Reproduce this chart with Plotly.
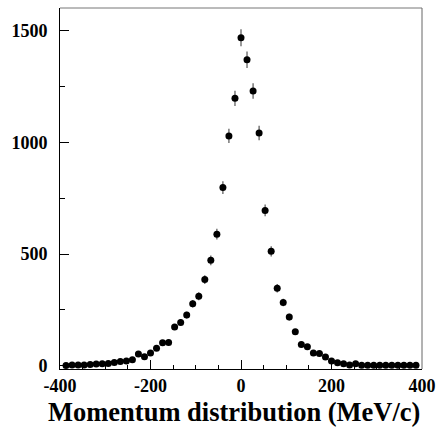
import numpy as np
import plotly.graph_objects as go

# Bin centres (MeV/c), 60 bins of 13.33 MeV/c across [-400, 400]
momentum = [
    -386.7, -373.3, -360.0, -346.7, -333.3, -320.0, -306.7, -293.3, -280.0, -266.7,
    -253.3, -240.0, -226.7, -213.3, -200.0, -186.7, -173.3, -160.0, -146.7, -133.3,
    -120.0, -106.7, -93.3, -80.0, -66.7, -53.3, -40.0, -26.7, -13.3, 0.0,
    13.3, 26.7, 40.0, 53.3, 66.7, 80.0, 93.3, 106.7, 120.0, 133.3,
    146.7, 160.0, 173.3, 186.7, 200.0, 213.3, 226.7, 240.0, 253.3, 266.7,
    280.0, 293.3, 306.7, 320.0, 333.3, 346.7, 360.0, 373.3, 386.7,
]

# Entries per bin
counts = [
    2, 4, 4, 4, 6, 8, 9, 11, 15, 19,
    22, 27, 53, 41, 58, 79, 103, 105, 174, 194,
    227, 278, 311, 386, 472, 589, 797, 1028, 1196, 1467,
    1369, 1229, 1041, 695, 512, 347, 283, 218, 152, 95,
    86, 58, 55, 40, 22, 14, 10, 4, 9, 3,
    3, 3, 3, 3, 3, 3, 3, 3, 3,
]

# Poisson uncertainty on each bin
errors = np.sqrt(np.array(counts, dtype=float))

x_ticks = [-400, -200, 0, 200, 400]
y_ticks = [0, 500, 1000, 1500]

FONT = "Liberation Serif"

fig = go.Figure()
fig.add_trace(go.Scatter(
    x=momentum,
    y=counts,
    mode="markers",
    marker=dict(color="black", size=7, symbol="circle"),
    error_y=dict(type="data", array=errors, visible=True,
                 color="#555555", thickness=1.2, width=0),
    showlegend=False,
))

axis_common = dict(
    showgrid=False,
    zeroline=False,
    showline=True,
    linecolor="black",
    linewidth=1,
    ticks="inside",
    ticklen=9,
    tickwidth=1,
    tickcolor="black",
    tickfont=dict(family=FONT, size=18, color="black", weight="bold"),
    mirror=False,
    automargin=False,
)

fig.update_xaxes(
    range=[-400, 400],
    tickvals=x_ticks,
    ticktext=[str(v) for v in x_ticks],
    minor=dict(dtick=50, tick0=0, ticks="inside", ticklen=4.5, tickcolor="black"),
    **axis_common,
)
fig.update_yaxes(
    range=[-14, 1600],
    tickvals=y_ticks,
    ticktext=[str(v) for v in y_ticks],
    minor=dict(dtick=250, tick0=0, ticks="inside", ticklen=4.5, tickcolor="black"),
    ticklabelstandoff=8,
    **axis_common,
)

# Grey top and right edges of the frame
fig.add_shape(type="line", xref="paper", yref="paper", x0=0, x1=1, y0=1, y1=1,
              line=dict(color="#777777", width=1))
fig.add_shape(type="line", xref="paper", yref="paper", x0=1, x1=1, y0=0, y1=1,
              line=dict(color="#666666", width=1))

# Axis title, right-aligned to the end of the x axis
fig.add_annotation(
    text="Momentum distribution (MeV/c)",
    xref="paper", yref="paper", x=1.0, y=0, xanchor="right", yanchor="top",
    yshift=-26, showarrow=False,
    font=dict(family=FONT, size=26.5, color="black", weight="bold"),
)

fig.update_layout(
    width=437,
    height=430,
    margin=dict(l=60, r=15, t=8, b=61),
    paper_bgcolor="white",
    plot_bgcolor="white",
)

fig.write_html("out.html")
